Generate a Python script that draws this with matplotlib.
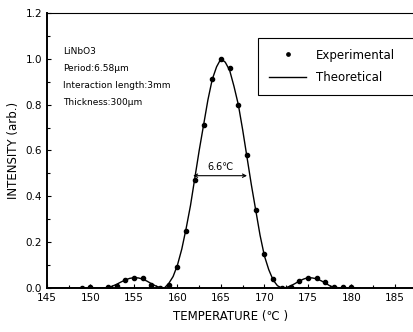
import numpy as np
import matplotlib.pyplot as plt
from matplotlib.ticker import MultipleLocator

plt.rcParams['font.family'] = ['DejaVu Sans', 'Noto Sans CJK SC']

# experimental points
exp_t = [149, 150, 152, 153, 154, 155, 156, 157, 158, 159, 160, 161, 162, 163,
         164, 165, 166, 167, 168, 169, 170, 171, 172, 173, 174, 175, 176, 177,
         178, 179, 180]
exp_i = [0.0, 0.005, 0.003, 0.01, 0.035, 0.045, 0.042, 0.012, 0.0, 0.015, 0.09,
         0.25, 0.47, 0.71, 0.91, 1.0, 0.96, 0.80, 0.58, 0.34, 0.15, 0.04, 0.0,
         0.005, 0.03, 0.045, 0.045, 0.025, 0.005, 0.003, 0.004]

# theoretical curve
th_t = [145, 151, 152, 152.5, 153, 153.5, 154, 154.5, 155, 155.5, 156, 156.5,
        157, 157.5, 158, 158.5, 159, 159.5, 160, 160.5, 161, 161.5, 162, 162.5,
        163, 163.5, 164, 164.5, 165, 165.5, 166, 166.5, 167, 167.5, 168, 168.5,
        169, 169.5, 170, 170.5, 171, 171.5, 172, 172.5, 173, 173.5, 174, 174.5,
        175, 175.5, 176, 176.5, 177, 177.5, 178, 179, 181]
th_i = [0.0, 0.0, 0.002, 0.008, 0.016, 0.026, 0.035, 0.042, 0.045, 0.044, 0.039,
        0.030, 0.019, 0.009, 0.002, 0.0, 0.02, 0.05, 0.10, 0.17, 0.26, 0.36,
        0.48, 0.60, 0.71, 0.82, 0.91, 0.965, 1.0, 0.985, 0.95, 0.88, 0.80, 0.69,
        0.57, 0.45, 0.34, 0.23, 0.14, 0.08, 0.035, 0.01, 0.0, 0.002, 0.009,
        0.019, 0.030, 0.039, 0.045, 0.044, 0.040, 0.032, 0.022, 0.010, 0.003,
        0.0, 0.0]

fwhm_lo, fwhm_hi, fwhm_y = 161.8, 168.0, 0.49

fig = plt.figure(figsize=(4.14, 3.32), dpi=100)
ax = fig.add_axes([0.1135, 0.1325, 0.8865, 0.8285])

ax.plot(th_t, th_i, color='black', lw=1.0, label='Theoretical')
ax.plot(exp_t, exp_i, 'o', color='black', ms=3, label='Experimental')

ax.annotate('', xy=(fwhm_lo, fwhm_y), xytext=(fwhm_hi, fwhm_y),
            arrowprops=dict(arrowstyle='<->', color='black', lw=0.8,
                            shrinkA=0, shrinkB=0, mutation_scale=6))
ax.text((fwhm_lo + fwhm_hi) / 2, fwhm_y + 0.015, '6.6℃', ha='center',
        va='bottom', fontsize=7, family=['DejaVu Sans', 'Noto Sans CJK SC'])

info = ['LiNbO3', 'Period:6.58μm', 'Interaction length:3mm', 'Thickness:300μm']
for k, s in enumerate(info):
    ax.text(146.8, 1.03 - k * 0.073, s, fontsize=6.5, va='center', ha='left')

ax.set_xlim(145, 187.2)
ax.set_ylim(0, 1.2)
ax.xaxis.set_major_locator(MultipleLocator(5))
ax.yaxis.set_major_locator(MultipleLocator(0.2))
ax.yaxis.set_minor_locator(MultipleLocator(0.1))
ax.xaxis.set_minor_locator(MultipleLocator(2.5))
ax.set_yticks(np.arange(0, 1.21, 0.2))
ax.set_yticklabels(['0.0', '0.2', '0.4', '0.6', '0.8', '1.0', '1.2'])
ax.tick_params(which='both', direction='in', labelsize=7.5, length=3, width=0.8)
ax.tick_params(which='minor', length=2)
ax.spines['right'].set_visible(False)
ax.spines['left'].set_linewidth(1.4)
ax.spines['bottom'].set_linewidth(1.4)
ax.spines['top'].set_linewidth(0.8)

ax.set_xlabel('TEMPERATURE (℃ )', fontsize=8.5, labelpad=5)
ax.set_ylabel('INTENSITY (arb.)', fontsize=8.5, labelpad=4)

h, l = ax.get_legend_handles_labels()
leg = ax.legend(h[::-1], l[::-1], loc='upper left',
                bbox_to_anchor=(0.575, 0.909, 0.45, 0), mode='expand',
                borderaxespad=0, fontsize=8.5, fancybox=False, edgecolor='black',
                framealpha=1, handlelength=3.2, borderpad=0.9, labelspacing=0.8,
                markerscale=0.8)
leg.get_frame().set_linewidth(0.8)

fig.savefig('out.png', dpi=100)
